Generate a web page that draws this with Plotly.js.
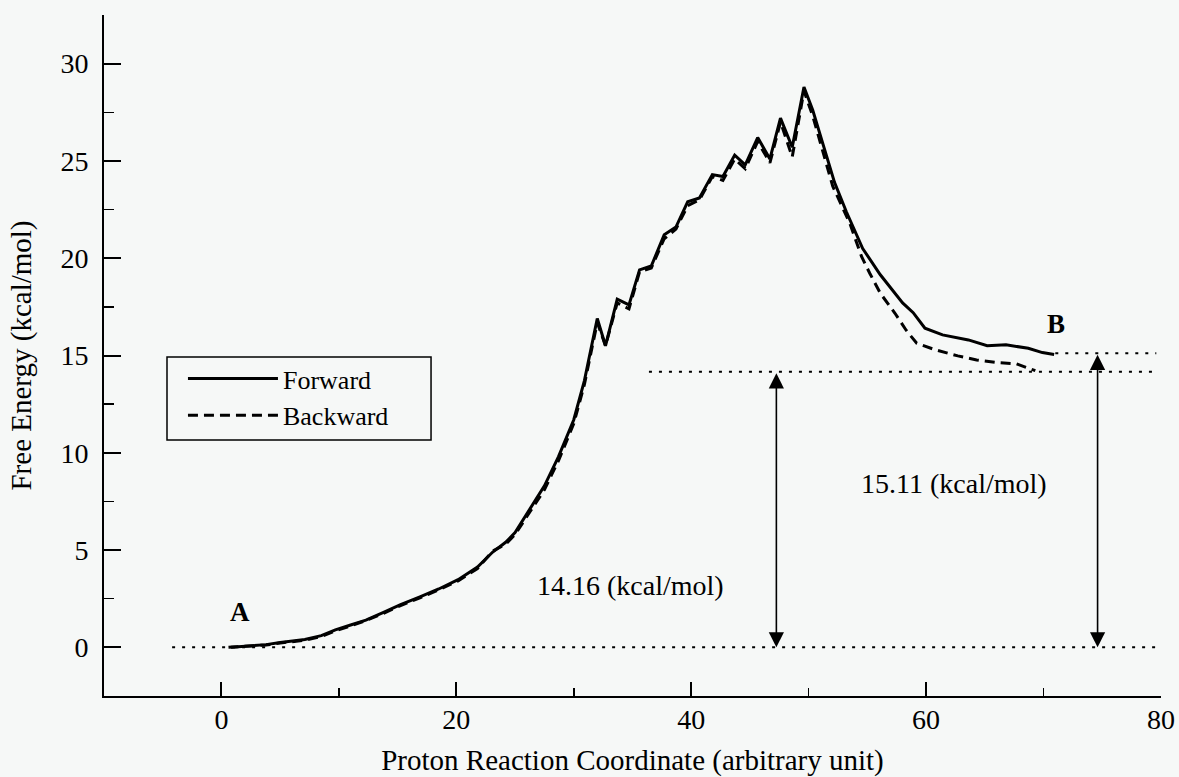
<!DOCTYPE html>
<html>
<head>
<meta charset="utf-8">
<script src="https://cdn.plot.ly/plotly-3.0.1.min.js"></script>
<style>
html,body{margin:0;padding:0;background:#f6f8f7;}
#chart{width:1179px;height:777px;}
</style>
</head>
<body>
<div id="chart"></div>
<script>
// Forward free-energy profile
var forwardX = [0.8, 2, 3.8, 5, 7.1, 8.5, 9.7, 11, 12.3, 13.8, 15.25, 16.9, 18.5, 20.15, 21.8, 23.1, 24.2, 25, 26.2, 27.5, 28.7, 30, 30.9, 31.5, 32.0, 32.7, 33.7, 34.7, 35.6, 36.6, 37.7, 38.7, 39.7, 40.7, 41.8, 42.7, 43.7, 44.6, 45.66, 46.7, 47.6, 48.6, 49.6, 50.35, 51.3, 52.2, 53.2, 54.6, 56.1, 57.2, 58.0, 58.9, 59.9, 61.4, 63.6, 65.2, 66.8, 68.7, 69.9, 70.9];
var forwardY = [0, 0.05, 0.14, 0.25, 0.4, 0.6, 0.9, 1.15, 1.4, 1.8, 2.2, 2.6, 3.0, 3.48, 4.13, 4.9, 5.4, 5.9, 7.05, 8.3, 9.8, 11.7, 13.7, 15.5, 16.9, 15.5, 17.9, 17.6, 19.4, 19.6, 21.2, 21.6, 22.9, 23.1, 24.3, 24.2, 25.3, 24.8, 26.2, 25.1, 27.2, 25.7, 28.8, 27.6, 25.7, 23.9, 22.4, 20.5, 19.15, 18.3, 17.7, 17.2, 16.4, 16.06, 15.8, 15.5, 15.55, 15.37, 15.15, 15.05];

// Backward free-energy profile
var backwardX = [0.6, 2, 3.8, 5, 7.1, 8.5, 9.7, 11, 12.3, 13.8, 15.25, 16.9, 18.5, 20.15, 21.8, 23.1, 24.2, 25, 26.2, 27.5, 28.7, 30, 30.9, 31.5, 32.0, 32.7, 33.7, 34.7, 35.6, 36.6, 37.7, 38.7, 39.7, 40.7, 41.8, 42.7, 43.7, 44.6, 45.66, 46.7, 47.6, 48.6, 49.6, 50.35, 51.3, 52.05, 53.5, 54.5, 55.2, 56.1, 57.35, 58.3, 59.2, 60.8, 62.7, 64.3, 66.2, 67.7, 69.3];
var backwardY = [0, 0.05, 0.12, 0.22, 0.37, 0.55, 0.85, 1.1, 1.38, 1.75, 2.15, 2.55, 2.95, 3.42, 4.05, 4.95, 5.3, 5.8, 6.9, 8.1, 9.6, 11.5, 13.5, 15.3, 16.7, 15.5, 17.7, 17.4, 19.3, 19.5, 21.0, 21.5, 22.7, 23.0, 24.2, 24.0, 25.1, 24.6, 26.0, 24.9, 27.0, 25.2, 28.6, 27.3, 25.3, 23.7, 21.8, 20.09, 19.23, 18.2, 17.17, 16.3, 15.63, 15.29, 14.98, 14.77, 14.63, 14.57, 14.22];

// Reference (dotted) levels
var refLevels = [0, 14.16, 15.11];
var refStart  = [-4.2, 36.4, 71.0];
var refEnd    = [79.6, 79.6, 79.6];

// Double-headed arrows marking the energy differences
var arrowX   = [47.25, 74.6];
var arrowTop = [14.16, 15.11];
var arrowLabels = ["14.16 (kcal/mol)", "15.11 (kcal/mol)"];
var arrowLabelX = [34.8, 62.4];
var arrowLabelY = [3.2, 8.44];

// State labels
var stateLabels = ["A", "B"];
var stateX = [1.55, 71.1];
var stateY = [1.8, 16.6];

var FONT = "'Liberation Serif', 'Times New Roman', serif";

var traces = [
  {x: forwardX, y: forwardY, type: 'scatter', mode: 'lines', name: 'Forward',
   line: {color: '#000', width: 3}},
  {x: backwardX, y: backwardY, type: 'scatter', mode: 'lines', name: 'Backward',
   line: {color: '#000', width: 3, dash: '10px,6px'}}
];
for (var i = 0; i < refLevels.length; i++) {
  traces.push({x: [refStart[i], refEnd[i]], y: [refLevels[i], refLevels[i]],
    type: 'scatter', mode: 'lines', showlegend: false, hoverinfo: 'skip',
    line: {color: '#000', width: 2, dash: '3px,7px'}});
}

var annotations = [];
for (var j = 0; j < arrowX.length; j++) {
  annotations.push({x: arrowX[j], y: 0, ax: arrowX[j], ay: arrowTop[j],
    xref: 'x', yref: 'y', axref: 'x', ayref: 'y', text: '', showarrow: true,
    arrowside: 'end+start', arrowhead: 2, arrowsize: 1.9, arrowwidth: 1.6,
    arrowcolor: '#000', standoff: 0, startstandoff: 0});
  annotations.push({x: arrowLabelX[j], y: arrowLabelY[j], xref: 'x', yref: 'y',
    text: arrowLabels[j], showarrow: false, font: {family: FONT, size: 28, color: '#000'}});
}
for (var k = 0; k < stateLabels.length; k++) {
  annotations.push({x: stateX[k], y: stateY[k], xref: 'x', yref: 'y',
    text: '<b>' + stateLabels[k] + '</b>', showarrow: false,
    font: {family: FONT, size: 27, color: '#000'}});
}

var layout = {
  width: 1179, height: 777,
  paper_bgcolor: '#f6f8f7', plot_bgcolor: '#f6f8f7',
  margin: {l: 104, r: 18, t: 15, b: 81},
  font: {family: FONT, size: 28, color: '#000'},
  showlegend: true,
  legend: {x: 0.0747, y: 0.5007, xanchor: 'left', yanchor: 'top',
    bgcolor: 'rgba(0,0,0,0)', borderwidth: 0,
    itemwidth: 90, tracegroupgap: 0,
    font: {family: FONT, size: 26, color: '#000'}},
  shapes: [{type: 'rect', xref: 'paper', yref: 'paper', x0: 0.0596, x1: 0.3094, y0: 0.3759, y1: 0.4978,
    line: {color: '#000', width: 1.5}, fillcolor: 'rgba(0,0,0,0)'}],
  xaxis: {range: [-10, 80], tick0: 0, dtick: 20, showline: true, linecolor: '#000', linewidth: 2,
    ticks: 'inside', ticklen: 14, tickwidth: 2, tickcolor: '#000', showgrid: false, zeroline: false,
    ticklabelstandoff: -3,
    minor: {ticks: 'inside', ticklen: 8, tickwidth: 1.5, tickcolor: '#000', dtick: 10, tick0: 0, showgrid: false},
    tickfont: {family: FONT, size: 28, color: '#000'},
    title: {text: 'Proton Reaction Coordinate (arbitrary unit)', standoff: 16,
      font: {family: FONT, size: 29, color: '#000'}}},
  yaxis: {range: [-2.5, 32.5], tick0: 0, dtick: 5, showline: true, linecolor: '#000', linewidth: 2,
    ticks: 'inside', ticklen: 17, tickwidth: 2, tickcolor: '#000', showgrid: false, zeroline: false,
    ticklabelstandoff: 8,
    minor: {ticks: 'inside', ticklen: 10, tickwidth: 1.5, tickcolor: '#000', dtick: 2.5, tick0: 0, showgrid: false},
    tickfont: {family: FONT, size: 28, color: '#000'},
    title: {text: 'Free Energy (kcal/mol)', standoff: 20,
      font: {family: FONT, size: 29, color: '#000'}}},
  annotations: annotations
};

Plotly.newPlot('chart', traces, layout, {displayModeBar: false, staticPlot: true});
</script>
</body>
</html>
